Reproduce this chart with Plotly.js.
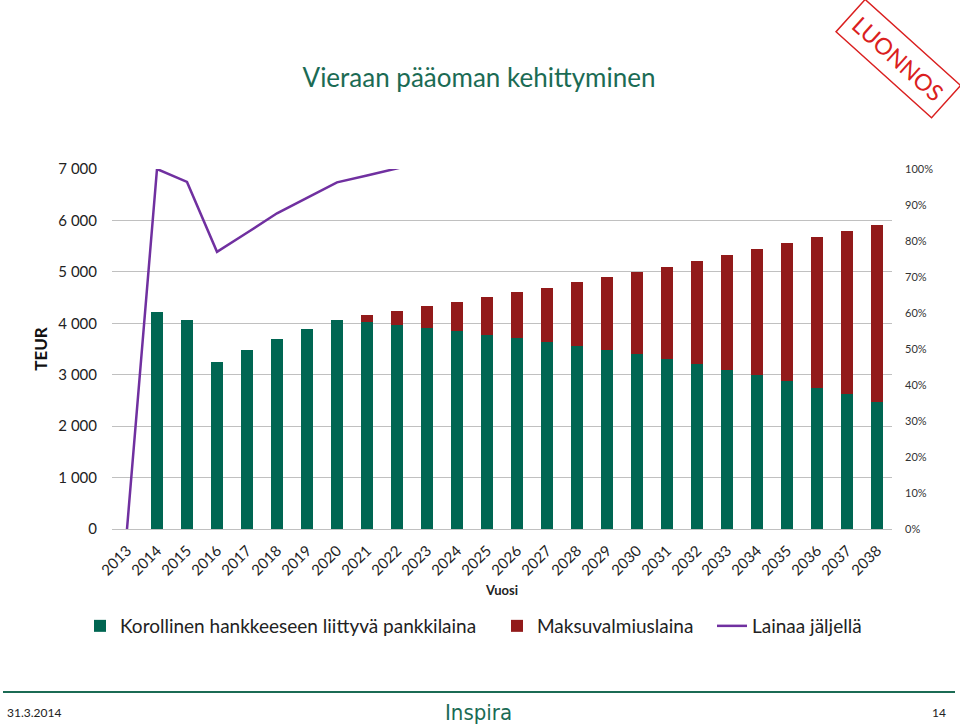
<!DOCTYPE html>
<html>
<head>
<meta charset="utf-8">
<script src="https://cdn.plot.ly/plotly-3.0.1.min.js"></script>
<style>html,body{margin:0;padding:0;background:#fff;}#chart{width:960px;height:728px;}</style>
</head>
<body>
<div id="chart"></div>
<script>
const years = ["2013","2014","2015","2016","2017","2018","2019","2020","2021","2022","2023","2024","2025","2026","2027","2028","2029","2030","2031","2032","2033","2034","2035","2036","2037","2038"];
const pankkilaina = [0,4220,4070,3250,3475,3700,3885,4070,4020,3965,3910,3845,3780,3720,3636,3565,3480,3396,3300,3202,3098,2990,2872,2748,2620,2475];
const maksuvalmius = [0,0,0,0,0,0,0,0,136,272,428,576,733,882,1057,1232,1420,1601,1801,2015,2224,2449,2683,2924,3175,3442];
const lainaaJaljella = [0,1.00,0.964,0.77,0.823,0.877,0.92,0.963,0.982,1.001,1.02,1.04,1.06,1.08,1.10,1.12,1.14,1.16,1.18,1.20,1.22,1.24,1.26,1.28,1.30,1.32];
const seriesNames = ["Korollinen hankkeeseen liittyvä pankkilaina","Maksuvalmiuslaina","Lainaa jäljellä"];

const FONT = "Lato, 'Open Sans', sans-serif";
const L = 112, R = 892, T = 169, B = 529;
const px = x => (x - L) / (R - L);
const py = y => (B - y) / (B - T);

const traces = [
  {type:"bar", name:seriesNames[0], x:years, y:pankkilaina, marker:{color:"#006652"}, yaxis:"y", legend:"legend"},
  {type:"bar", name:seriesNames[1], x:years, y:maksuvalmius, marker:{color:"#921A1A"}, yaxis:"y", legend:"legend2"},
  {type:"scatter", mode:"lines", name:seriesNames[2], x:years, y:lainaaJaljella, line:{color:"#7030A0", width:2.5}, yaxis:"y2", legend:"legend3"}
];

const legendBase = {orientation:"h", xanchor:"left", y:py(626), yanchor:"middle", font:{size:19, color:"#222"}, bgcolor:"rgba(0,0,0,0)"};

const layout = {
  width:960, height:728,
  margin:{l:L, r:960-R, t:T, b:728-B},
  paper_bgcolor:"#fff", plot_bgcolor:"#fff",
  font:{family:FONT, color:"#222"},
  separators:", ",
  barmode:"stack", bargap:0.6,
  showlegend:true,
  title:{text:"Vieraan pääoman kehittyminen", font:{size:26, color:"#1B6B54", family:FONT}, x:479/960, xanchor:"center", xref:"container", y:1-78/728, yanchor:"middle"},
  xaxis:{type:"category", tickangle:-45, tickfont:{size:15, color:"#222"}, showgrid:false, showline:false, ticks:"", automargin:false, ticklabelstandoff:9,
         title:{text:"Vuosi", font:{size:13, color:"#222", weight:"bold"}, standoff:8}},
  yaxis:{range:[0,7000], dtick:1000, tickformat:",d", tickfont:{size:15, color:"#222"}, gridcolor:"#c0c0c0", gridwidth:1, zeroline:true, zerolinecolor:"#c0c0c0", showline:false, ticks:"", automargin:false, ticklabelstandoff:14,
         title:{text:"TEUR", font:{size:17, color:"#111", weight:"bold"}, standoff:6}},
  yaxis2:{range:[0,1], dtick:0.1, tickformat:".0%", overlaying:"y", side:"right", showgrid:false, zeroline:false, tickfont:{size:11, color:"#333"}, automargin:false, ticklabelstandoff:12},
  legend:Object.assign({}, legendBase, {x:px(80)}),
  legend2:Object.assign({}, legendBase, {x:px(497)}),
  legend3:Object.assign({}, legendBase, {x:px(712)}),
  shapes:[
    {type:"line", xref:"paper", yref:"paper", x0:px(3), x1:px(955), y0:py(692), y1:py(692), line:{color:"#1B6B54", width:2}}
  ],
  annotations:[
    {xref:"paper", yref:"paper", x:px(5), y:py(712), xanchor:"left", yanchor:"middle", text:"31.3.2014", showarrow:false, font:{size:12, color:"#222"}},
    {xref:"paper", yref:"paper", x:px(948), y:py(712), xanchor:"right", yanchor:"middle", text:"14", showarrow:false, font:{size:12, color:"#222"}},
    {xref:"paper", yref:"paper", x:px(478), y:py(712), xanchor:"center", yanchor:"middle", text:"Inspira", showarrow:false, font:{size:22, color:"#1B6B54", family:"'Liberation Sans Narrow', 'DejaVu Sans Condensed', sans-serif"}},
    {xref:"paper", yref:"paper", x:px(898), y:py(59), xanchor:"center", yanchor:"middle", text:"LUONNOS", textangle:42, showarrow:false, font:{size:23, color:"#DA2020", family:FONT}, bordercolor:"#DA2020", borderwidth:1.5, borderpad:7, bgcolor:"rgba(255,255,255,0)"}
  ]
};

Plotly.newPlot("chart", traces, layout, {displayModeBar:false, staticPlot:true});
</script>
</body>
</html>
